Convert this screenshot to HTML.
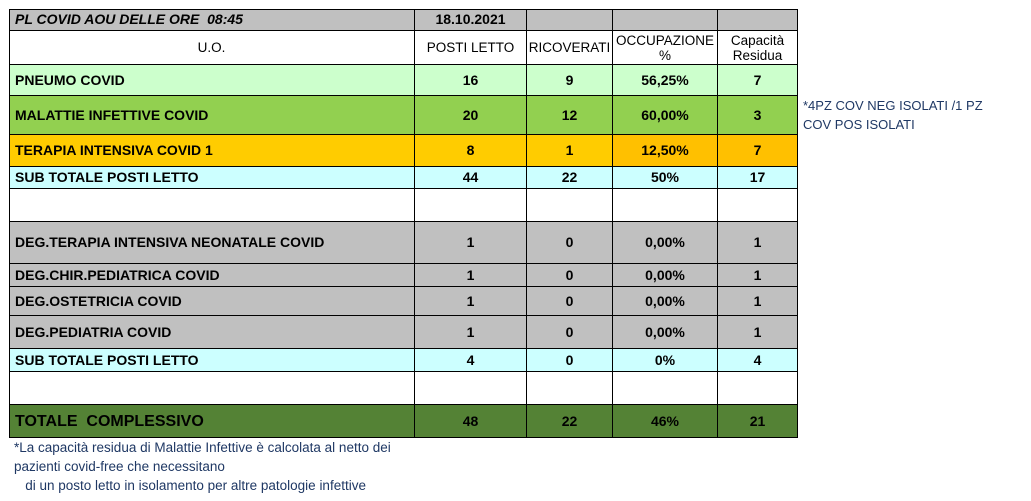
<!DOCTYPE html>
<html><head><meta charset="utf-8"><style>
body{margin:0;width:1031px;height:501px;background:#fff;position:relative;overflow:hidden;font-family:"Liberation Sans",Arial,sans-serif}
.c{position:absolute;box-sizing:border-box;border-right:1px solid #000;border-bottom:1px solid #000;display:flex;align-items:center;justify-content:center;font-size:14px;font-weight:bold;color:#000;text-align:center;line-height:15px}
.l{justify-content:flex-start;padding-left:6px}
.n{font-weight:normal;font-size:13.5px}
.note{position:absolute;color:#1f3864;font-size:13.5px;line-height:19px;font-family:"Liberation Sans",sans-serif}
</style></head><body>
<div id="t"></div>
<div style="position:absolute;left:9px;top:9px;width:789px;height:429px;border-left:1px solid #000;border-top:1px solid #000;box-sizing:border-box;z-index:5"></div>
<div class="note" style="left:803px;top:96px;font-size:13px">*4PZ COV NEG ISOLATI /1 PZ<br>COV POS ISOLATI</div>
<div class="note" style="left:14px;top:438px">*La capacità residua di Malattie Infettive è calcolata al netto dei<br>pazienti covid-free che necessitano<br>&nbsp;&nbsp;&nbsp;di un posto letto in isolamento per altre patologie infettive</div>
<script>
const X=[9,415,527,613,718,798];
const rows=[
[9,31,'#c0c0c0',['<i>PL COVID AOU DELLE ORE&nbsp; 08:45</i>','18.10.2021','','',''],'h'],
[31,65,'#fff',['U.O.','POSTI LETTO','RICOVERATI','OCCUPAZIONE<br>%','Capacità<br>Residua'],'n'],
[65,96,'#ccffcc',['PNEUMO COVID','16','9','56,25%','7']],
[96,135,'#92d050',['MALATTIE INFETTIVE COVID','20','12','60,00%','3']],
[135,167,'#ffcc00',['TERAPIA INTENSIVA COVID 1','8','1','12,50%','7'],'o'],
[167,189,'#ccffff',['SUB TOTALE POSTI LETTO','44','22','50%','17']],
[189,222,'#fff',['','','','','']],
[222,264,'#c0c0c0',['DEG.TERAPIA INTENSIVA NEONATALE COVID','1','0','0,00%','1']],
[264,287,'#c0c0c0',['DEG.CHIR.PEDIATRICA COVID','1','0','0,00%','1']],
[287,316,'#c0c0c0',['DEG.OSTETRICIA COVID','1','0','0,00%','1']],
[316,349,'#c0c0c0',['DEG.PEDIATRIA COVID','1','0','0,00%','1']],
[349,372,'#ccffff',['SUB TOTALE POSTI LETTO','4','0','0%','4']],
[372,405,'#fff',['','','','','']],
[405,438,'#548235',['TOTALE&nbsp; COMPLESSIVO','48','22','46%','21'],'t'],
];
let h='';
for(const r of rows){for(let i=0;i<5;i++){
let bg=r[2];if(r[4]=='o'&&i>=3)bg='#ffc000';
let cls='c';if(i==0&&r[4]!='n')cls+=' l';if(r[4]=='n')cls+=' n';
let fs=r[4]=='t'&&i==0?'font-size:16px;':'';
h+=`<div class="${cls}" style="left:${X[i]}px;top:${r[0]}px;width:${X[i+1]-X[i]}px;height:${r[1]-r[0]}px;background:${bg};${fs}">${r[3][i]}</div>`;}}
document.getElementById('t').innerHTML=h;
</script>
</body></html>
